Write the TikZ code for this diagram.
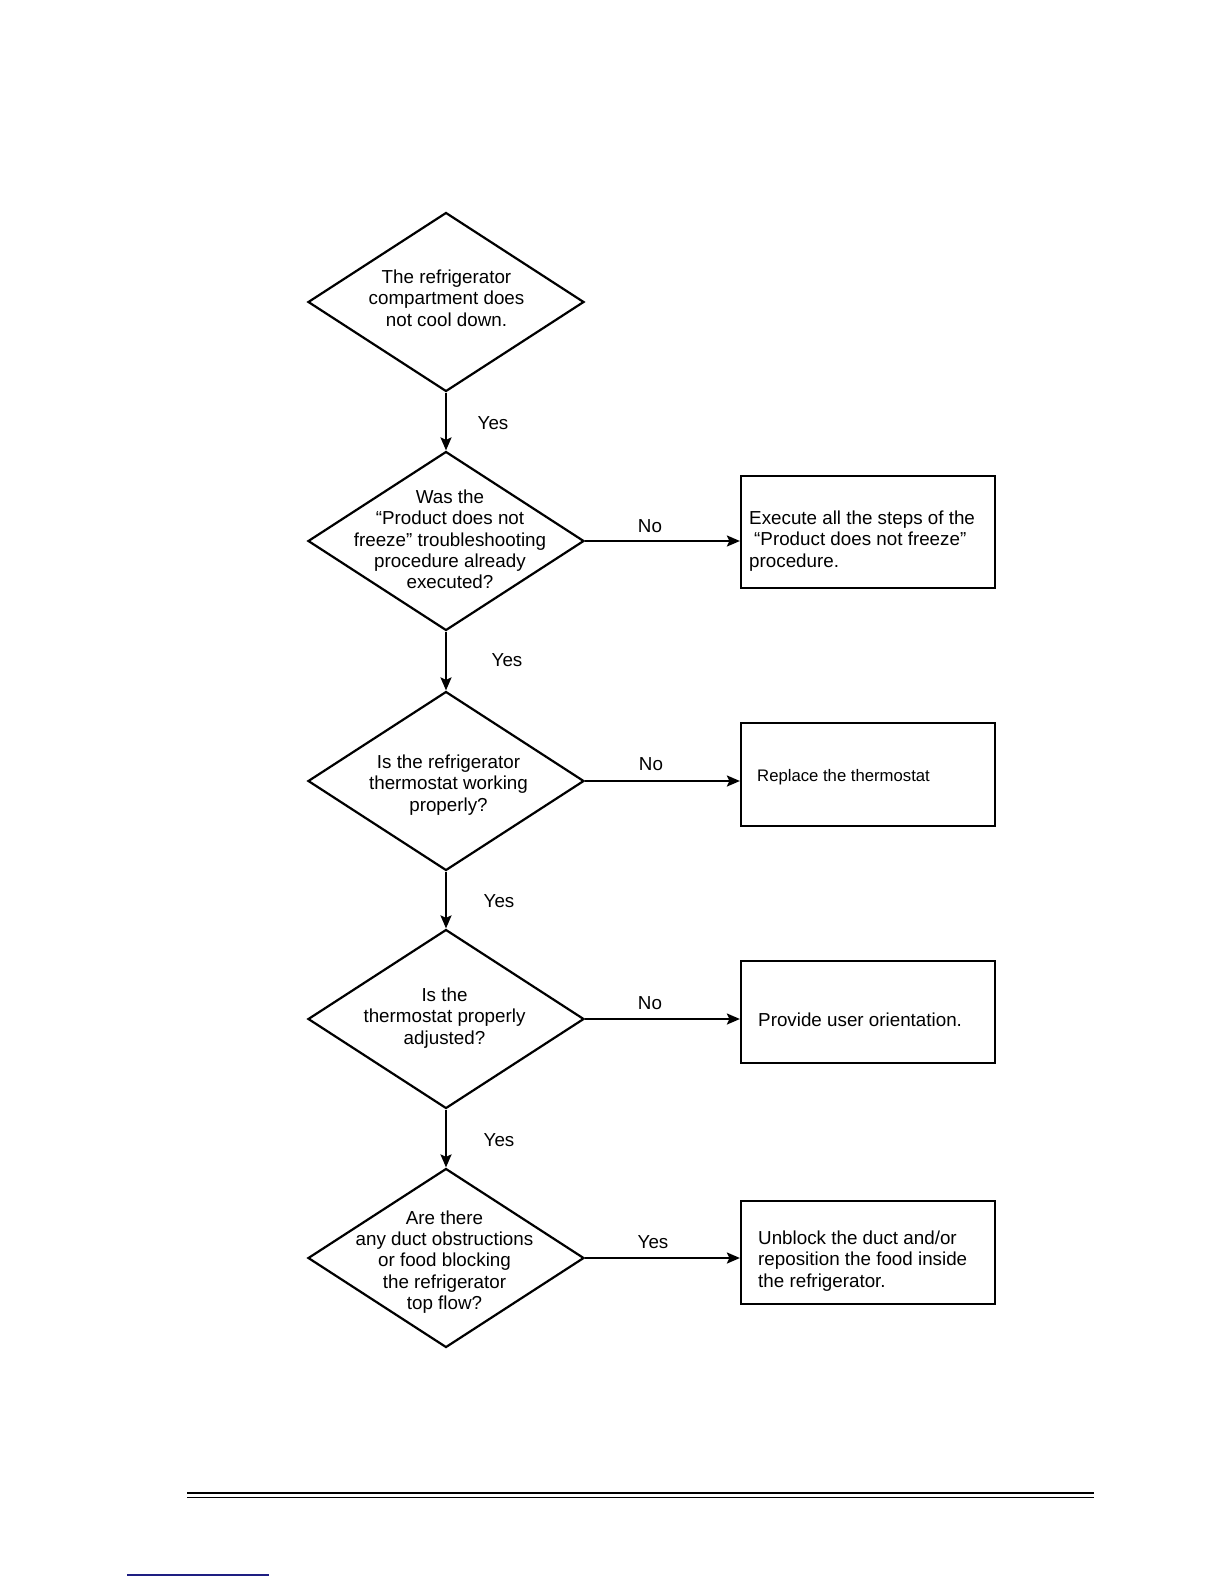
\documentclass[tikz,border=0pt]{standalone}
\usepackage{fontspec}
\setmainfont{Liberation Sans}
\usetikzlibrary{shapes.geometric,arrows.meta}
\definecolor{footblue}{RGB}{30,30,130}
\begin{document}
\begin{tikzpicture}[x=1pt,y=-1pt,
  decision/.style={diamond,draw,line width=2.2pt,minimum width=276pt,minimum height=179pt,inner sep=0pt},
  action/.style={rectangle,draw,line width=2.2pt,minimum width=254pt,inner sep=0pt},
  txt/.style={font=\fontsize{18.8}{21.3}\selectfont,inner sep=0pt},
  small/.style={font=\fontsize{16.7}{19}\selectfont,inner sep=0pt},
  conn/.style={line width=2.2pt,-{Stealth[length=13pt,width=11pt,inset=2.5pt]}},
  footline/.style={line width=1.6pt}]
\useasboundingbox (0,0) rectangle (1224,1584);

% decisions
\node[decision] (d1) at (446,302) {};
\node[decision] (d2) at (446,541) {};
\node[decision] (d3) at (446,781) {};
\node[decision] (d4) at (446,1019) {};
\node[decision] (d5) at (446,1258) {};

\node[txt,align=center] (t1) at (446.5,298) {The refrigerator\\compartment does\\not cool down.};
\node[txt,align=center] (t2) at (450,539.5) {Was the\\“Product does not\\freeze” troubleshooting\\procedure already\\executed?};
\node[txt,align=center] (t3) at (448.5,785) {Is the refrigerator\\thermostat working\\properly?};
\node[txt,align=center] (t4) at (444.5,1018) {Is the\\thermostat properly\\adjusted?};
\node[txt,align=center] (t5) at (444.5,1262) {Are there\\any duct obstructions\\or food blocking\\the refrigerator\\top flow?};

% actions
\node[action,minimum height=112pt] (b1) at (868,532) {};
\node[action,minimum height=103pt] (b2) at (868,774.5) {};
\node[action,minimum height=102pt] (b3) at (868,1012) {};
\node[action,minimum height=103pt] (b4) at (868,1252.5) {};

\node[txt,align=left,anchor=west] (bt1) at (749,541) {Execute all the steps of the\\\hspace*{5pt}“Product does not freeze”\\procedure.};
\node[small,anchor=west] (bt2) at (757,777) {Replace the thermostat};
\node[txt,anchor=west] (bt3) at (758,1020) {Provide user orientation.};
\node[txt,align=left,anchor=west] (bt4) at (758,1261) {Unblock the duct and/or\\reposition the food inside\\the refrigerator.};

% connectors
\draw[conn] (d1.south) -- (d2.north);
\draw[conn] (d2.south) -- (d3.north);
\draw[conn] (d3.south) -- (d4.north);
\draw[conn] (d4.south) -- (d5.north);
\draw[conn] (d2.east) -- (d2.east -| b1.west);
\draw[conn] (d3.east) -- (d3.east -| b2.west);
\draw[conn] (d4.east) -- (d4.east -| b3.west);
\draw[conn] (d5.east) -- (d5.east -| b4.west);

% labels
\node[txt] (y1) at (493,423) {Yes};
\node[txt] (y2) at (507,660) {Yes};
\node[txt] (y3) at (499,901) {Yes};
\node[txt] (y4) at (499,1140) {Yes};
\node[txt] (n1) at (650,526) {No};
\node[txt] (n2) at (651,764) {No};
\node[txt] (n3) at (650,1003) {No};
\node[txt] (y5) at (653,1242) {Yes};

% footer
\coordinate (fa) at (187,1493);
\coordinate (fb) at (1094,1493);
\coordinate (fc) at (187,1497.5);
\coordinate (fd) at (1094,1497.5);
\draw[footline] (fa) -- (fb);
\draw[footline] (fc) -- (fd);
\coordinate (ba) at (127,1575);
\coordinate (bb) at (269,1575);
\draw[footblue,line width=1.3pt] (ba) -- (bb);
\end{tikzpicture}
\end{document}
